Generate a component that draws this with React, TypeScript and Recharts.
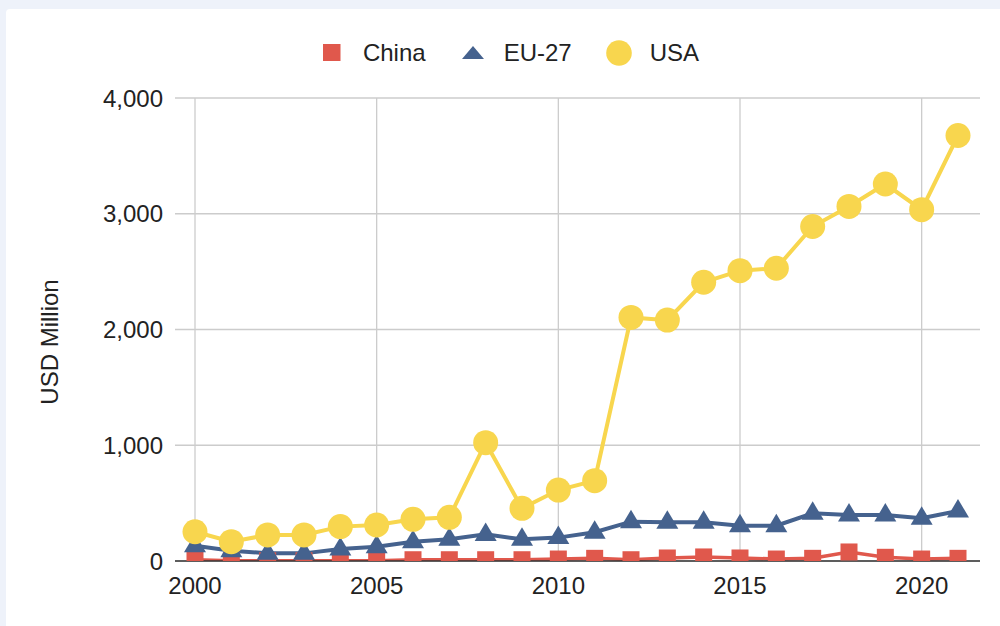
import React from 'react';
import { LineChart, Line, XAxis, YAxis, CartesianGrid, Legend } from 'recharts';

const years = [2000, 2001, 2002, 2003, 2004, 2005, 2006, 2007, 2008, 2009, 2010, 2011, 2012, 2013, 2014, 2015, 2016, 2017, 2018, 2019, 2020, 2021];
const china = [11, 2, 2, 2, 2, 2, 11, 11, 11, 11, 17, 23, 11, 26, 35, 26, 17, 23, 78, 32, 17, 23];
const eu27 = [132, 89, 66, 66, 104, 124, 167, 187, 230, 187, 202, 248, 340, 334, 334, 305, 305, 412, 397, 397, 369, 432];
const usa = [253, 167, 225, 225, 297, 311, 360, 377, 1022, 455, 613, 694, 2104, 2081, 2408, 2508, 2529, 2890, 3063, 3257, 3035, 3676];

const xTicks = [2000, 2005, 2010, 2015, 2020];
const yTicks = [0, 1000, 2000, 3000, 4000];

const RED = '#E0584C';
const BLUE = '#45628E';
const YELLOW = '#F8D64E';
const FONT = '"Liberation Sans", Arial, sans-serif';

const data = years.map((year, i) => ({ year, china: china[i], eu: eu27[i], usa: usa[i] }));

const SquareDot = (props: any) => {
  const { cx, cy, index } = props;
  if (cx == null || cy == null) return null;
  return <rect key={`sq-${index}`} x={cx - 8.5} y={cy - 8.5} width={17} height={17} fill={RED} />;
};

const TriangleDot = (props: any) => {
  const { cx, cy, index } = props;
  if (cx == null || cy == null) return null;
  // centroid sits on the data point
  const pts = `${cx},${cy - 12} ${cx + 11},${cy + 6.5} ${cx - 11},${cy + 6.5}`;
  return <polygon key={`tr-${index}`} points={pts} fill={BLUE} />;
};

const CircleDot = (props: any) => {
  const { cx, cy, index } = props;
  if (cx == null || cy == null) return null;
  return <circle key={`ci-${index}`} cx={cx} cy={cy} r={12.5} fill={YELLOW} />;
};

const legendItems = [
  { name: 'China', icon: <rect x={4} y={4} width={17.5} height={17} fill={RED} /> },
  { name: 'EU-27', icon: <polygon points="2,19 13,6 24,19" fill={BLUE} /> },
  { name: 'USA', icon: <circle cx={13} cy={13} r={12.8} fill={YELLOW} /> },
];

const ChartLegend = () => (
  <div style={{ display: 'flex', justifyContent: 'center', alignItems: 'center', paddingLeft: 18, fontFamily: FONT, fontSize: 24, color: '#222' }}>
    {legendItems.map((item, i) => (
      <div key={item.name} style={{ display: 'flex', alignItems: 'center', marginLeft: i === 0 ? 0 : 34 }}>
        <svg width={26} height={26} style={{ marginRight: 18 }}>{item.icon}</svg>
        <span>{item.name}</span>
      </div>
    ))}
  </div>
);

const YLabel = () => (
  <text x={58} y={342} transform="rotate(-90 58 342)" textAnchor="middle" fontFamily={FONT} fontSize={24} fill="#222">
    USD Million
  </text>
);

export default function App() {
  return (
    <div style={{ position: 'absolute', left: 0, top: 0, width: 1000, height: 626, background: '#EEF2FA', overflow: 'hidden' }}>
      <div style={{ position: 'absolute', left: 6, top: 9, width: 1000, height: 626, background: '#fff', borderTopLeftRadius: 4 }} />
      <div style={{ position: 'absolute', left: 0, top: 0 }}>
        <LineChart width={1000} height={626} data={data} margin={{ top: 98, right: 20, bottom: 35, left: 0 }}>
          <CartesianGrid stroke="#CCCCCC" strokeWidth={1.3} verticalValues={xTicks} />
          <XAxis
            dataKey="year"
            type="number"
            domain={[2000, 2021]}
            ticks={xTicks}
            padding={{ left: 20, right: 22 }}
            tickLine={false}
            tickMargin={10}
            axisLine={{ stroke: '#333', strokeWidth: 1.3 }}
            tick={{ fill: '#222', fontSize: 24, fontFamily: FONT }}
          />
          <YAxis
            type="number"
            domain={[0, 4000]}
            ticks={yTicks}
            allowDataOverflow
            width={175}
            tickLine={false}
            axisLine={false}
            tickMargin={6}
            tickFormatter={(v: number) => v.toLocaleString('en-US')}
            tick={{ fill: '#222', fontSize: 24, fontFamily: FONT }}
            label={YLabel}
          />
          <Legend
            layout="horizontal"
            verticalAlign="middle"
            align="center"
            content={ChartLegend}
            wrapperStyle={{ top: 39, left: 0, width: 1000 }}
          />
          <Line dataKey="china" name="China" stroke={RED} strokeWidth={3.5} dot={SquareDot} activeDot={false} isAnimationActive={false} />
          <Line dataKey="eu" name="EU-27" stroke={BLUE} strokeWidth={4} dot={TriangleDot} activeDot={false} isAnimationActive={false} />
          <Line dataKey="usa" name="USA" stroke={YELLOW} strokeWidth={4} dot={CircleDot} activeDot={false} isAnimationActive={false} />
        </LineChart>
      </div>
    </div>
  );
}
